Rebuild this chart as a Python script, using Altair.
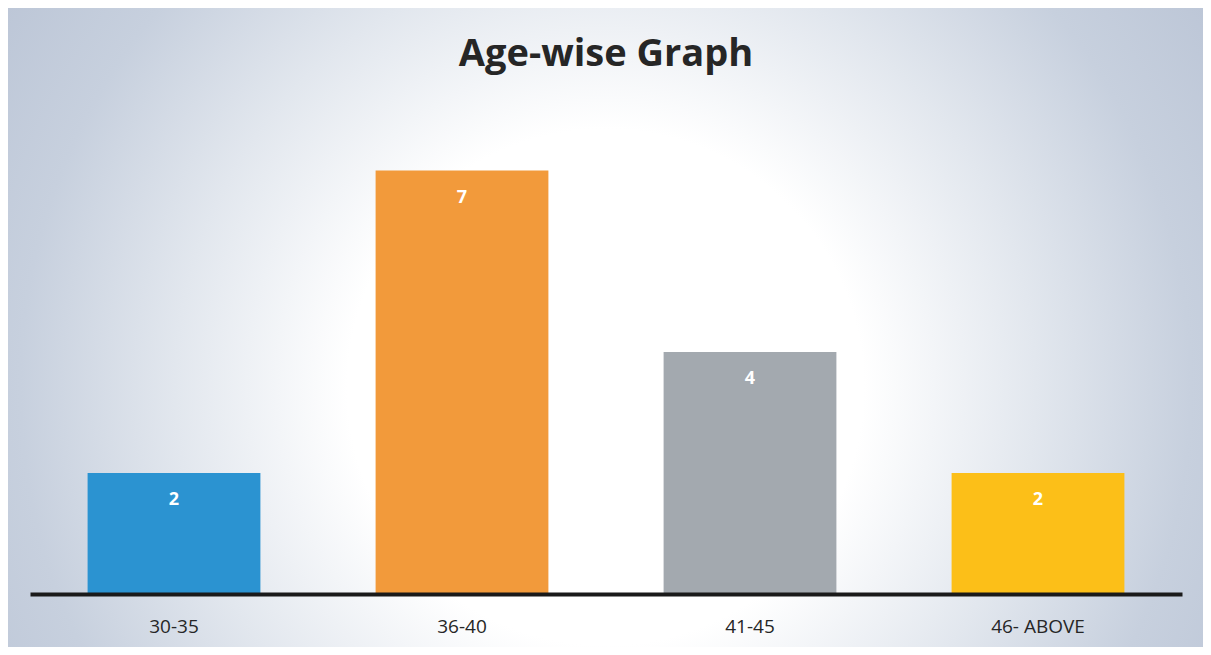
import altair as alt
import pandas as pd

categories = ["30-35", "36-40", "41-45", "46- ABOVE"]
counts = [2, 7, 4, 2]
bar_colors = ["#2B93D1", "#F29A3B", "#A3A9AF", "#FCBF18"]
title_text = "Age-wise Graph"

W, H = 1152, 484
PAD = {"left": 22, "top": 102, "right": 21, "bottom": 53}

df = pd.DataFrame({"age": categories, "count": counts})
bg_df = pd.DataFrame({"k": [0]})

bg = alt.Chart(bg_df).mark_rect(
    color=alt.Gradient(
        gradient="radial",
        x1=0.5, y1=0.55, r1=0.0,
        x2=0.5, y2=0.55, r2=0.72,
        stops=[
            alt.GradientStop(offset=0.0, color="#FFFFFF"),
            alt.GradientStop(offset=0.3, color="#FFFFFF"),
            alt.GradientStop(offset=0.5, color="#E2E7EE"),
            alt.GradientStop(offset=0.68, color="#C7D0DE"),
            alt.GradientStop(offset=0.85, color="#BBC5D6"),
            alt.GradientStop(offset=1.0, color="#B6C0D2"),
        ],
    )
).encode(
    x=alt.value(-PAD["left"]),
    x2=alt.value(W + PAD["right"]),
    y=alt.value(-PAD["top"]),
    y2=alt.value(H + PAD["bottom"]),
)

xenc = alt.X(
    "age:N",
    sort=categories,
    title=None,
    scale=alt.Scale(paddingInner=0.4, paddingOuter=0.2),
    axis=alt.Axis(
        labelAngle=0,
        labelFont="Open Sans",
        labelFontSize=19,
        labelColor="#262626",
        labelBaseline="alphabetic",
        labelPadding=38,
        ticks=False,
        tickSize=0,
        domainColor="#1A1A1A",
        domainWidth=4,
        grid=False,
        zindex=1,
    ),
)
yenc = alt.Y("count:Q", scale=alt.Scale(domain=[0, 8]), axis=None)

bars = alt.Chart(df).mark_bar().encode(
    x=xenc,
    y=yenc,
    color=alt.Color("age:N", scale=alt.Scale(domain=categories, range=bar_colors), legend=None),
)

labels = alt.Chart(df).mark_text(
    color="white", font="Open Sans", fontWeight="bold", fontSize=18,
    baseline="middle", dy=27,
).encode(
    x=alt.X("age:N", sort=categories),
    y="count:Q",
    text="count:Q",
)

title = alt.Chart(pd.DataFrame({"t": [title_text]})).mark_text(
    font="Open Sans", fontWeight="bold", fontSize=38, color="#262626",
    align="center", baseline="alphabetic",
).encode(
    x=alt.value(W / 2),
    y=alt.value(-44),
    text="t:N",
)

chart = alt.layer(bg, bars, labels, title).properties(
    width=W,
    height=H,
    autosize=alt.AutoSizeParams(type="none"),
    padding=PAD,
    background="#B9C3D3",
).configure_view(stroke=None)

chart.save("out.html", embed_options={"renderer": "svg", "actions": False})
